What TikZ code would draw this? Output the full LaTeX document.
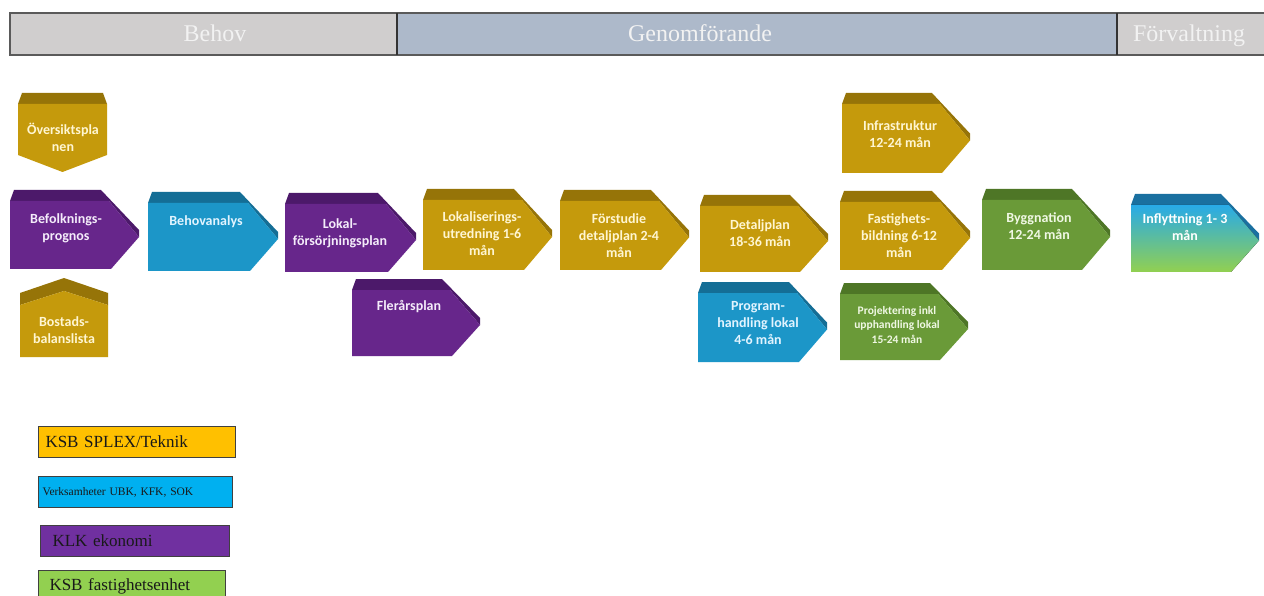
\documentclass[tikz,border=0pt]{standalone}
\usepackage{fontspec}
\setmainfont{Liberation Serif}
\newfontfamily\shapefont{Carlito}
\newcommand\legfont{\fontsize{17}{19}\selectfont\spaceskip=0.2em plus 0.05em\relax}
\definecolor{goldF}{RGB}{197,154,12}
\definecolor{goldB}{RGB}{150,116,8}
\definecolor{purF}{RGB}{103,38,139}
\definecolor{purB}{RGB}{76,25,106}
\definecolor{bluF}{RGB}{28,150,200}
\definecolor{bluB}{RGB}{20,110,150}
\definecolor{grnF}{RGB}{106,154,56}
\definecolor{grnB}{RGB}{78,118,38}
\definecolor{inTop}{RGB}{40,170,232}
\definecolor{inBot}{RGB}{146,208,80}
\definecolor{inB}{RGB}{26,112,160}
\definecolor{hdrGrey}{RGB}{208,206,206}
\definecolor{hdrBlue}{RGB}{173,185,202}
\definecolor{hdrLine}{RGB}{90,90,90}
\definecolor{legGold}{RGB}{255,192,0}
\definecolor{legCyan}{RGB}{0,176,240}
\definecolor{legPur}{RGB}{112,48,160}
\definecolor{legGrn}{RGB}{146,208,80}
\definecolor{legLine}{RGB}{64,64,64}
\definecolor{txtGold}{RGB}{255,246,210}
\definecolor{txtPur}{RGB}{244,236,250}
\definecolor{txtBlu}{RGB}{226,244,255}
\definecolor{txtGrn}{RGB}{240,248,228}
\tikzset{
  lbl/.style={font=\shapefont\bfseries\fontsize{14}{17}\selectfont, align=center, inner sep=0pt},
  lblsmall/.style={font=\shapefont\bfseries\fontsize{11.5}{14.5}\selectfont, align=center, inner sep=0pt},
  hdr/.style={draw=hdrLine, line width=1.5pt},
  hdrtxt/.style={text=white!95!black, font=\fontsize{24}{26}\selectfont, inner sep=0pt, anchor=base},
  legbox/.style={draw=legLine, line width=1pt, anchor=north west, minimum height=31pt,
     align=left, font=\legfont, text=black!90},
}
\newcommand\rarrow[6]{%
  \pgfmathsetmacro\rA{#4-30}%
  \pgfmathsetmacro\rF{#5+11}%
  \pgfmathsetmacro\rM{(\rF+#6)/2+2}%
  \fill[#2] (#3,\rF) -- (#3+4,#5) -- (\rA-8,#5) -- (#4,\rM-7) -- (#4,\rM) -- (\rA,\rF) -- cycle;
  \fill[#1] (#3,\rF) -- (\rA,\rF) -- (#4,\rM) -- (\rA+2,#6) -- (#3,#6) -- cycle;
}
\begin{document}
\begin{tikzpicture}[x=1pt,y=-1pt]
\useasboundingbox (0,0) rectangle (1264,596);
\clip (0,0) rectangle (1264,596);
\fill[white] (0,0) rectangle (1264,596);
% header
\draw[hdr, fill=hdrGrey] (10,13) rectangle (397,55);
\draw[hdr, fill=hdrBlue] (397,13) rectangle (1117,55);
\draw[hdr, fill=hdrGrey] (1117,13) rectangle (1268,55);
\draw[line width=1.5pt, black!80] (397,13) -- (397,55) (1117,13) -- (1117,55);
\node[hdrtxt] (hBehov) at (215,42) {Behov};
\node[hdrtxt] (hGen) at (700,42) {Genomförande};
\node[hdrtxt] (hForv) at (1189,42) {Förvaltning};
% Översiktsplanen (down)
\fill[goldB] (18,104) -- (22,93) -- (103,93) -- (107,104) -- cycle;
\fill[goldF] (18,104) -- (107,104) -- (107,155) -- (62.5,172) -- (18,155) -- cycle;
\node[lbl, text=txtGold] (oversikt) at (63,137) {Översiktspla\\nen};
% Bostads (up)
\fill[goldB] (20,305) -- (20,293) -- (64,278) -- (108,293) -- (108,305) -- (64,291) -- cycle;
\fill[goldF] (20,305) -- (64,291) -- (108,305) -- (108,357) -- (20,357) -- cycle;
\node[lbl, text=txtGold] (bostad) at (64,330) {Bostads-\\balanslista};
% right arrows
\rarrow{purF}{purB}{10}{139}{190}{269}
\node[lbl, text=txtPur] (befolk) at (66,228) {Befolknings-\\prognos};
\rarrow{bluF}{bluB}{148}{278}{192}{271}
\node[lbl, text=txtBlu] (behov) at (206,222) {Behovanalys};
\rarrow{purF}{purB}{285}{416}{193}{272}
\node[lbl, text=txtPur] (lokal) at (340,233) {Lokal-\\försörjningsplan};
\rarrow{purF}{purB}{352}{480}{279}{356}
\node[lbl, text=txtPur] (fler) at (409,307) {Flerårsplan};
\rarrow{goldF}{goldB}{423}{552}{189}{270}
\node[lbl, text=txtGold] (lokalis) at (482,234) {Lokaliserings-\\utredning 1-6\\mån};
\rarrow{goldF}{goldB}{560}{689}{190}{270}
\node[lbl, text=txtGold] (forstud) at (619,236) {Förstudie\\detaljplan 2-4\\mån};
\rarrow{goldF}{goldB}{700}{828}{195}{272}
\node[lbl, text=txtGold] (detalj) at (760,233) {Detaljplan\\18-36 mån};
\rarrow{bluF}{bluB}{698}{827}{282}{362}
\node[lbl, text=txtBlu] (program) at (758,323) {Program-\\handling lokal\\4-6 mån};
\rarrow{goldF}{goldB}{842}{970}{93}{173}
\node[lbl, text=txtGold] (infra) at (900,134) {Infrastruktur\\12-24 mån};
\rarrow{goldF}{goldB}{840}{970}{191}{270}
\node[lbl, text=txtGold] (fastig) at (899,236) {Fastighets-\\bildning 6-12\\mån};
\rarrow{grnF}{grnB}{840}{968}{283}{360}
\node[lblsmall, text=txtGrn] (projekt) at (897,325) {Projektering inkl\\upphandling lokal\\15-24 mån};
\rarrow{grnF}{grnB}{982}{1110}{189}{270}
\node[lbl, text=txtGrn] (bygg) at (1039,226) {Byggnation\\12-24 mån};
\rarrow{top color=inTop, bottom color=inBot}{inB}{1131}{1259}{194}{272}
\node[lbl, text=white] (inflytt) at (1185,227) {Inflyttning 1- 3\\mån};
% legend
\node[legbox, fill=legGold, minimum width=197pt, text width=183pt, inner xsep=7pt] (l1) at (38,426) {KSB SPLEX/Teknik};
\node[legbox, fill=legCyan, minimum width=194pt, text width=186pt, inner xsep=4pt, font=\fontsize{11.5}{13}\selectfont] (l2) at (38,476) {Verksamheter UBK, KFK, SOK};
\node[legbox, fill=legPur, minimum width=189pt, text width=165pt, inner xsep=12pt] (l3) at (40,525) {KLK ekonomi};
\node[legbox, fill=legGrn, minimum width=187pt, text width=165pt, inner xsep=11pt, minimum height=30pt, text depth=2pt] (l4) at (38,570) {KSB fastighetsenhet};
\end{tikzpicture}
\end{document}
